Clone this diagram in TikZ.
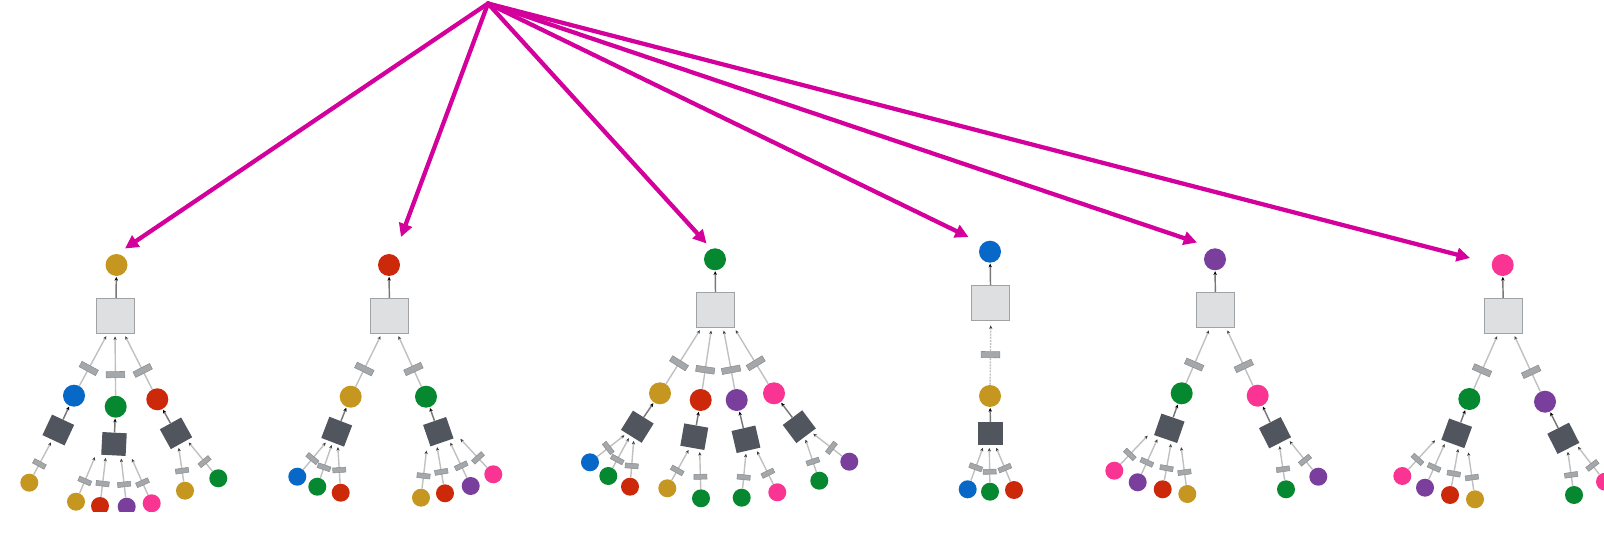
\documentclass[tikz,border=0pt]{standalone}
\usetikzlibrary{arrows.meta,calc}
\definecolor{mag}{RGB}{212,0,155}
\definecolor{cgold}{RGB}{197,151,32}
\definecolor{cred}{RGB}{204,40,10}
\definecolor{cblue}{RGB}{8,104,200}
\definecolor{cgreen}{RGB}{6,136,48}
\definecolor{cpurple}{RGB}{122,62,156}
\definecolor{cpink}{RGB}{250,52,146}
\definecolor{sqlight}{RGB}{222,223,225}
\definecolor{sqline}{RGB}{160,163,166}
\definecolor{sqdark}{RGB}{81,86,94}
\definecolor{labfill}{RGB}{165,168,170}
\definecolor{labline}{RGB}{140,143,145}
\definecolor{edgegray}{RGB}{192,192,192}
\definecolor{upgray}{RGB}{120,120,120}
\definecolor{tipdark}{RGB}{60,60,60}
\tikzset{
  rcirc/.style={circle,inner sep=0pt,minimum size=16.5pt,fill=#1},
  lcirc/.style={circle,inner sep=0pt,minimum size=13.5pt,fill=#1},
  lsq/.style={rectangle,inner sep=0pt,minimum width=28.7pt,minimum height=26.2pt,fill=sqlight,draw=sqline,line width=0.8pt},
  dsq/.style={rectangle,inner sep=0pt,minimum width=18.3pt,minimum height=17pt,fill=sqdark,rotate=#1},
  lblbig/.style={rectangle,inner sep=0pt,minimum width=4.6pt,minimum height=14pt,fill=labfill,draw=labline,line width=0.4pt},
  lblsmall/.style={rectangle,inner sep=0pt,minimum width=3.7pt,minimum height=9.8pt,fill=labfill,draw=labline,line width=0.4pt},
  lnkline/.style={draw=edgegray,line width=1.05pt,shorten >=2pt,-{Stealth[length=2.6pt,width=2.4pt,color=tipdark]}},
  upline/.style={draw=upgray,line width=1.1pt,shorten >=0.5pt,-{Stealth[length=2.8pt,width=2.6pt,color=black]}},
  bigarrow/.style={draw=mag,line width=3.2pt,line cap=round,-{Triangle[length=10pt,width=10pt]}},
}
% leaf link: [label pos] child, parent, fraction along parent's bottom side
\newcommand\lnk[4][0.44]{%
  \draw[lnkline] (#2) -- ($(#3.south west)!#4!(#3.south east)$);
  \path (#2.center) -- ($(#3.south west)!#4!(#3.south east)$) node[lblsmall,sloped,pos=#1]{};}
% upper link with the larger label
\newcommand\lnkb[4][0.44]{%
  \draw[lnkline] (#2) -- ($(#3.south west)!#4!(#3.south east)$);
  \path (#2.center) -- ($(#3.south west)!#4!(#3.south east)$) node[lblbig,sloped,pos=#1]{};}
\begin{document}
\begin{tikzpicture}[x=0.75pt,y=-0.75pt]
\useasboundingbox (0,0) rectangle (1604,552);
% ---------------- tree 1
\begin{scope}
\clip (0,0) rectangle (262,511.7);
\node[rcirc=cgold] (r1) at (116.5,265) {};
\node[lsq] (s1) at (115.8,315.8) {};
\node[rcirc=cblue] (a1) at (74,395.7) {};
\node[rcirc=cgreen] (b1) at (115.7,406.7) {};
\node[rcirc=cred] (c1) at (157.3,399.3) {};
\node[dsq=-25] (da1) at (58.3,430) {};
\node[dsq=-3] (db1) at (114,444) {};
\node[dsq=29] (dc1) at (176,433.3) {};
\node[lcirc=cgold] (l1a) at (29.3,482.7) {};
\node[lcirc=cgold] (l1b) at (76,501.7) {};
\node[lcirc=cred] (l1c) at (100,506) {};
\node[lcirc=cpurple] (l1d) at (126.7,506.7) {};
\node[lcirc=cpink] (l1e) at (151.7,503.3) {};
\node[lcirc=cgold] (l1f) at (185,490.7) {};
\node[lcirc=cgreen] (l1g) at (218.3,478.3) {};
\draw[upline] (s1) -- (r1);
\draw[upline] (da1) -- (a1);
\draw[upline] (db1) -- (b1);
\draw[upline] (dc1) -- (c1);
\lnkb{a1}{s1}{0.29} \lnkb{b1}{s1}{0.48} \lnkb{c1}{s1}{0.71}
\lnk{l1a}{da1}{0.45}
\lnk{l1b}{db1}{-0.2} \lnk{l1c}{db1}{0.2} \lnk{l1d}{db1}{0.8} \lnk{l1e}{db1}{1.2}
\lnk{l1f}{dc1}{0.35} \lnk{l1g}{dc1}{0.75}
\end{scope}
% ---------------- tree 2
\node[rcirc=cred] (r2) at (389,265) {};
\node[lsq] (s2) at (389.5,315.8) {};
\node[rcirc=cgold] (a2) at (350.7,396.7) {};
\node[rcirc=cgreen] (b2) at (426,396.7) {};
\node[dsq=-21] (da2) at (336.7,431.7) {};
\node[dsq=19] (db2) at (438.3,431.7) {};
\node[lcirc=cblue] (l2a) at (297.3,476.7) {};
\node[lcirc=cgreen] (l2b) at (317.3,486.7) {};
\node[lcirc=cred] (l2c) at (340.7,492.7) {};
\node[lcirc=cgold] (l2d) at (421,497.7) {};
\node[lcirc=cred] (l2e) at (445,493.3) {};
\node[lcirc=cpurple] (l2f) at (470.7,486) {};
\node[lcirc=cpink] (l2g) at (493.3,474.3) {};
\draw[upline] (s2) -- (r2);
\draw[upline] (da2) -- (a2);
\draw[upline] (db2) -- (b2);
\lnkb{a2}{s2}{0.30} \lnkb{b2}{s2}{0.70}
\lnk[0.5]{l2a}{da2}{0.28} \lnk{l2b}{da2}{0.5} \lnk[0.47]{l2c}{da2}{0.72}
\lnk{l2d}{db2}{-0.15} \lnk{l2e}{db2}{0.27} \lnk{l2f}{db2}{0.8} \lnk{l2g}{db2}{1.2}
% ---------------- tree 3
\node[rcirc=cgreen] (r3) at (715,259.3) {};
\node[lsq] (s3) at (715.8,310) {};
\node[rcirc=cgold] (a3) at (660,393.3) {};
\node[rcirc=cred] (b3) at (700.7,400) {};
\node[rcirc=cpurple] (c3) at (736.7,400) {};
\node[rcirc=cpink] (d3) at (774,393.3) {};
\node[dsq=-32] (da3) at (637.3,426.7) {};
\node[dsq=-10] (db3) at (694.3,436.7) {};
\node[dsq=13] (dc3) at (746,439.3) {};
\node[dsq=37] (dd3) at (799.3,426.7) {};
\node[lcirc=cblue] (l3a) at (590,462.3) {};
\node[lcirc=cgreen] (l3b) at (608.3,476) {};
\node[lcirc=cred] (l3c) at (630,486.7) {};
\node[lcirc=cgold] (l3d) at (667.3,488.3) {};
\node[lcirc=cgreen] (l3e) at (701,498.3) {};
\node[lcirc=cgreen] (l3f) at (741.7,497.7) {};
\node[lcirc=cpink] (l3g) at (777.3,492.3) {};
\node[lcirc=cgreen] (l3h) at (819.3,480.7) {};
\node[lcirc=cpurple] (l3i) at (849.3,461.7) {};
\draw[upline] (s3) -- (r3);
\draw[upline] (da3) -- (a3);
\draw[upline] (db3) -- (b3);
\draw[upline] (dc3) -- (c3);
\draw[upline] (dd3) -- (d3);
\lnkb[0.46]{a3}{s3}{0.13} \lnkb[0.42]{b3}{s3}{0.39} \lnkb[0.42]{c3}{s3}{0.69} \lnkb[0.46]{d3}{s3}{0.97}
\lnk[0.5]{l3a}{da3}{0.28} \lnk[0.41]{l3b}{da3}{0.45} \lnk[0.43]{l3c}{da3}{0.63}
\lnk{l3d}{db3}{0.4} \lnk{l3e}{db3}{0.8}
\lnk{l3f}{dc3}{0.4} \lnk{l3g}{dc3}{0.8}
\lnk{l3h}{dd3}{0.42} \lnk[0.47]{l3i}{dd3}{0.75}
% ---------------- tree 4
\node[rcirc=cblue] (r4) at (990,251.7) {};
\node[lsq] (s4) at (990.8,302.8) {};
\node[rcirc=cgold] (a4) at (990,396) {};
\node[dsq=0] (da4) at (990.5,433.7) {};
\node[lcirc=cblue] (l4a) at (967.7,489.3) {};
\node[lcirc=cgreen] (l4b) at (990,491.7) {};
\node[lcirc=cred] (l4c) at (1014,490) {};
\draw[upline] (s4) -- (r4);
\draw[upline] (da4) -- (a4);
\draw[lnkline,shorten >=3.5pt,dash pattern=on 1.5pt off 0.8pt] (a4) -- (s4.south);
\path (a4.center) -- (s4.south) node[lblbig,sloped,pos=0.55]{};
\lnk[0.5]{l4a}{da4}{0.23} \lnk[0.43]{l4b}{da4}{0.45} \lnk[0.49]{l4c}{da4}{0.69}
% ---------------- tree 5
\node[rcirc=cpurple] (r5) at (1215,259.3) {};
\node[lsq] (s5) at (1215.5,310) {};
\node[rcirc=cgreen] (a5) at (1181.7,393.3) {};
\node[rcirc=cpink] (b5) at (1257.7,395.7) {};
\node[dsq=-19] (da5) at (1169.3,428.3) {};
\node[dsq=27] (db5) at (1275,432.7) {};
\node[lcirc=cpink] (l5a) at (1114.3,470.7) {};
\node[lcirc=cpurple] (l5b) at (1137.7,482.3) {};
\node[lcirc=cred] (l5c) at (1162.7,489.3) {};
\node[lcirc=cgold] (l5d) at (1187.3,494) {};
\node[lcirc=cgreen] (l5e) at (1286,489.3) {};
\node[lcirc=cpurple] (l5f) at (1318.3,476.7) {};
\draw[upline] (s5) -- (r5);
\draw[upline] (da5) -- (a5);
\draw[upline] (db5) -- (b5);
\lnkb{a5}{s5}{0.36} \lnkb{b5}{s5}{0.77}
\lnk{l5a}{da5}{-0.18} \lnk{l5b}{da5}{0.2} \lnk{l5c}{da5}{0.75} \lnk{l5d}{da5}{1.15}
\lnk{l5e}{db5}{0.45} \lnk{l5f}{db5}{0.85}
% ---------------- tree 6
\node[rcirc=cpink] (r6) at (1502.7,265) {};
\node[lsq] (s6) at (1503.3,315.8) {};
\node[rcirc=cgreen] (a6) at (1469.3,399) {};
\node[rcirc=cpurple] (b6) at (1545,401.7) {};
\node[dsq=-20] (da6) at (1456.7,433.3) {};
\node[dsq=27] (db6) at (1563.3,438.3) {};
\node[lcirc=cpink] (l6a) at (1402.3,476) {};
\node[lcirc=cpurple] (l6b) at (1425,487.7) {};
\node[lcirc=cred] (l6c) at (1450,495) {};
\node[lcirc=cgold] (l6d) at (1475,499.3) {};
\node[lcirc=cgreen] (l6e) at (1574,495) {};
\node[lcirc=cpink] (l6f) at (1605,481.7) {};
\draw[upline] (s6) -- (r6);
\draw[upline] (da6) -- (a6);
\draw[upline] (db6) -- (b6);
\lnkb{a6}{s6}{0.37} \lnkb{b6}{s6}{0.76}
\lnk{l6a}{da6}{-0.18} \lnk{l6b}{da6}{0.2} \lnk{l6c}{da6}{0.75} \lnk{l6d}{da6}{1.15}
\lnk{l6e}{db6}{0.45} \lnk{l6f}{db6}{0.85}
% ---------------- magenta arrows
\coordinate (src) at (488,3.5);
\coordinate (t1) at (125,248.5);
\coordinate (t2) at (401,237);
\coordinate (t3) at (706.5,243.5);
\coordinate (t4) at (968.5,237);
\coordinate (t5) at (1197,242.5);
\coordinate (t6) at (1470,258);
\foreach \t in {t1,t2,t3,t4,t5,t6} \draw[bigarrow] (src) -- (\t);
\end{tikzpicture}
\end{document}
